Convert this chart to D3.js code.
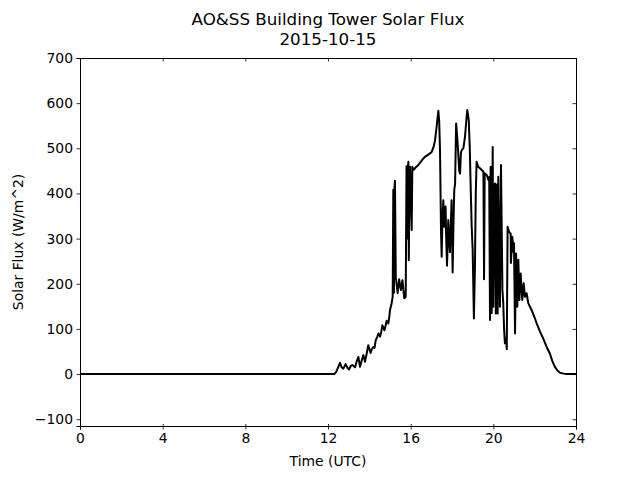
<!DOCTYPE html>
<html>
<head>
<meta charset="utf-8">
<script src="https://cdn.jsdelivr.net/npm/d3@7"></script>
<style>
  body { margin: 0; background: #fff; }
  text { font-family: "DejaVu Sans", sans-serif; fill: #000; }
</style>
</head>
<body>
<div id="chart"></div>
<script>
// values (hour UTC, W/m^2)
var hours = [0, 12.3, 12.4, 12.58, 12.66, 12.74, 12.85, 12.94, 13.02, 13.1, 13.18, 13.31, 13.4, 13.47, 13.55, 13.63,
  13.71, 13.79, 13.87, 13.95, 14.06, 14.12, 14.19, 14.25, 14.31, 14.38, 14.44, 14.52, 14.58, 14.63, 14.73, 14.8,
  14.84, 14.92, 14.97, 15.0, 15.08, 15.13, 15.16, 15.19, 15.22, 15.24, 15.28, 15.33, 15.37, 15.44, 15.49, 15.53,
  15.6, 15.69, 15.76, 15.8, 15.83, 15.86, 15.89, 15.91, 15.94, 15.97, 16.01, 16.05, 16.08, 16.13, 16.25, 16.37,
  16.55, 16.69, 16.85, 17.02, 17.12, 17.18, 17.25, 17.29, 17.34, 17.38, 17.42, 17.47, 17.5, 17.54, 17.58, 17.63,
  17.69, 17.72, 17.76, 17.82, 17.86, 17.9, 17.98, 18.03, 18.07, 18.11, 18.15, 18.2, 18.26, 18.3, 18.35, 18.39,
  18.43, 18.47, 18.55, 18.63, 18.69, 18.74, 18.81, 18.86, 18.9, 18.95, 19.0, 19.06, 19.11, 19.15, 19.19, 19.27,
  19.35, 19.44, 19.52, 19.55, 19.58, 19.68, 19.76, 19.8, 19.84, 19.87, 19.92, 19.97, 20.0, 20.04, 20.08, 20.12,
  20.16, 20.21, 20.24, 20.27, 20.32, 20.37, 20.44, 20.48, 20.52, 20.56, 20.62, 20.65, 20.69, 20.76, 20.84, 20.85,
  20.92, 20.97, 21.0, 21.05, 21.1, 21.16, 21.21, 21.26, 21.32, 21.4, 21.47, 21.53, 21.61, 21.69, 21.85, 22.02,
  22.1, 22.26, 22.42, 22.58, 22.74, 22.86, 22.98, 23.1, 23.23, 23.4, 23.55, 24];
var flux = [0, 0, 5, 25, 15, 12, 22, 14, 10, 18, 20, 15, 30, 38, 16, 30,
  42, 27, 45, 64, 47, 55, 60, 58, 75, 82, 90, 83, 95, 108, 97, 110,
  118, 112, 128, 142, 157, 171, 408, 180, 415, 428, 215, 195, 179, 210, 195, 186,
  208, 168, 171, 460, 300, 455, 470, 252, 420, 459, 380, 319, 459, 452, 458, 463,
  474, 481, 486, 492, 505, 518, 545, 563, 583, 560, 496, 312, 260, 350, 385, 326,
  371, 300, 240, 341, 300, 270, 385, 225, 330, 408, 422, 555, 520, 490, 450, 444,
  490, 496, 500, 526, 560, 585, 563, 500, 422, 330, 275, 123, 238, 400, 470, 459,
  456, 452, 448, 210, 445, 441, 430, 437, 120, 459, 135, 503, 149, 400, 422, 134,
  420, 134, 437, 311, 149, 463, 186, 157, 100, 68, 80, 55, 326, 315, 311, 246,
  304, 271, 290, 90, 267, 149, 253, 164, 223, 164, 201, 171, 179, 157, 142, 122,
  112, 94, 78, 60, 45, 28, 16, 8, 3, 1, 0, 0];
var xTicks = [0, 4, 8, 12, 16, 20, 24];
var yTicks = [-100, 0, 100, 200, 300, 400, 500, 600, 700];

var W = 640, H = 480;
var m = {left: 80, right: 64, top: 58, bottom: 54};

var svg = d3.select("#chart").append("svg")
  .attr("width", W).attr("height", H);

var x = d3.scaleLinear().domain([0, 24]).range([m.left, W - m.right]);
var y = d3.scaleLinear().domain([-115, 700]).range([H - m.bottom, m.top]);

var pts = hours.map(function(h, i){ return [h, flux[i]]; });

svg.append("defs").append("clipPath").attr("id", "clip")
  .append("rect")
  .attr("x", m.left).attr("y", m.top)
  .attr("width", W - m.left - m.right).attr("height", H - m.top - m.bottom);

svg.append("path")
  .datum(pts)
  .attr("clip-path", "url(#clip)")
  .attr("fill", "none")
  .attr("stroke", "#000")
  .attr("stroke-width", 2)
  .attr("stroke-linejoin", "round")
  .attr("d", d3.line().x(function(d){ return x(d[0]); }).y(function(d){ return y(d[1]); }));

// axes
var fs = "13.9px";
var axBottom = svg.append("g").attr("transform", "translate(0," + (H - m.bottom) + ")")
  .call(d3.axisBottom(x).tickValues(xTicks).tickSize(3.5).tickPadding(4).tickFormat(d3.format("d")));
var axLeft = svg.append("g").attr("transform", "translate(" + m.left + ",0)")
  .call(d3.axisLeft(y).tickValues(yTicks).tickSize(3.5).tickPadding(3.5).tickFormat(d3.format("d")));
var axTop = svg.append("g").attr("transform", "translate(0," + m.top + ")")
  .call(d3.axisTop(x).tickValues(xTicks).tickSize(-3.5).tickFormat(""));
var axRight = svg.append("g").attr("transform", "translate(" + (W - m.right) + ",0)")
  .call(d3.axisRight(y).tickValues(yTicks).tickSize(-3.5).tickFormat(""));

[axBottom, axLeft, axTop, axRight].forEach(function(g){
  g.select(".domain").attr("stroke", "#000").attr("stroke-width", 1);
  g.selectAll(".tick line").attr("stroke", "#000").attr("stroke-width", 0.8);
  g.selectAll(".tick text").style("font-size", fs).style("font-family", "DejaVu Sans");
});
axBottom.selectAll(".tick line").attr("y1", -2);

// titles
svg.append("text").attr("x", (m.left + W - m.right) / 2).attr("y", 25)
  .attr("text-anchor", "middle").style("font-size", "16.7px")
  .text("AO&SS Building Tower Solar Flux");
svg.append("text").attr("x", (m.left + W - m.right) / 2).attr("y", 45)
  .attr("text-anchor", "middle").style("font-size", "16.7px")
  .text("2015-10-15");

svg.append("text").attr("x", (m.left + W - m.right) / 2).attr("y", 466)
  .attr("text-anchor", "middle").style("font-size", fs)
  .text("Time (UTC)");
svg.append("text")
  .attr("transform", "translate(23," + ((m.top + H - m.bottom) / 2) + ") rotate(-90)")
  .attr("text-anchor", "middle").style("font-size", fs)
  .text("Solar Flux (W/m^2)");
</script>
</body>
</html>
